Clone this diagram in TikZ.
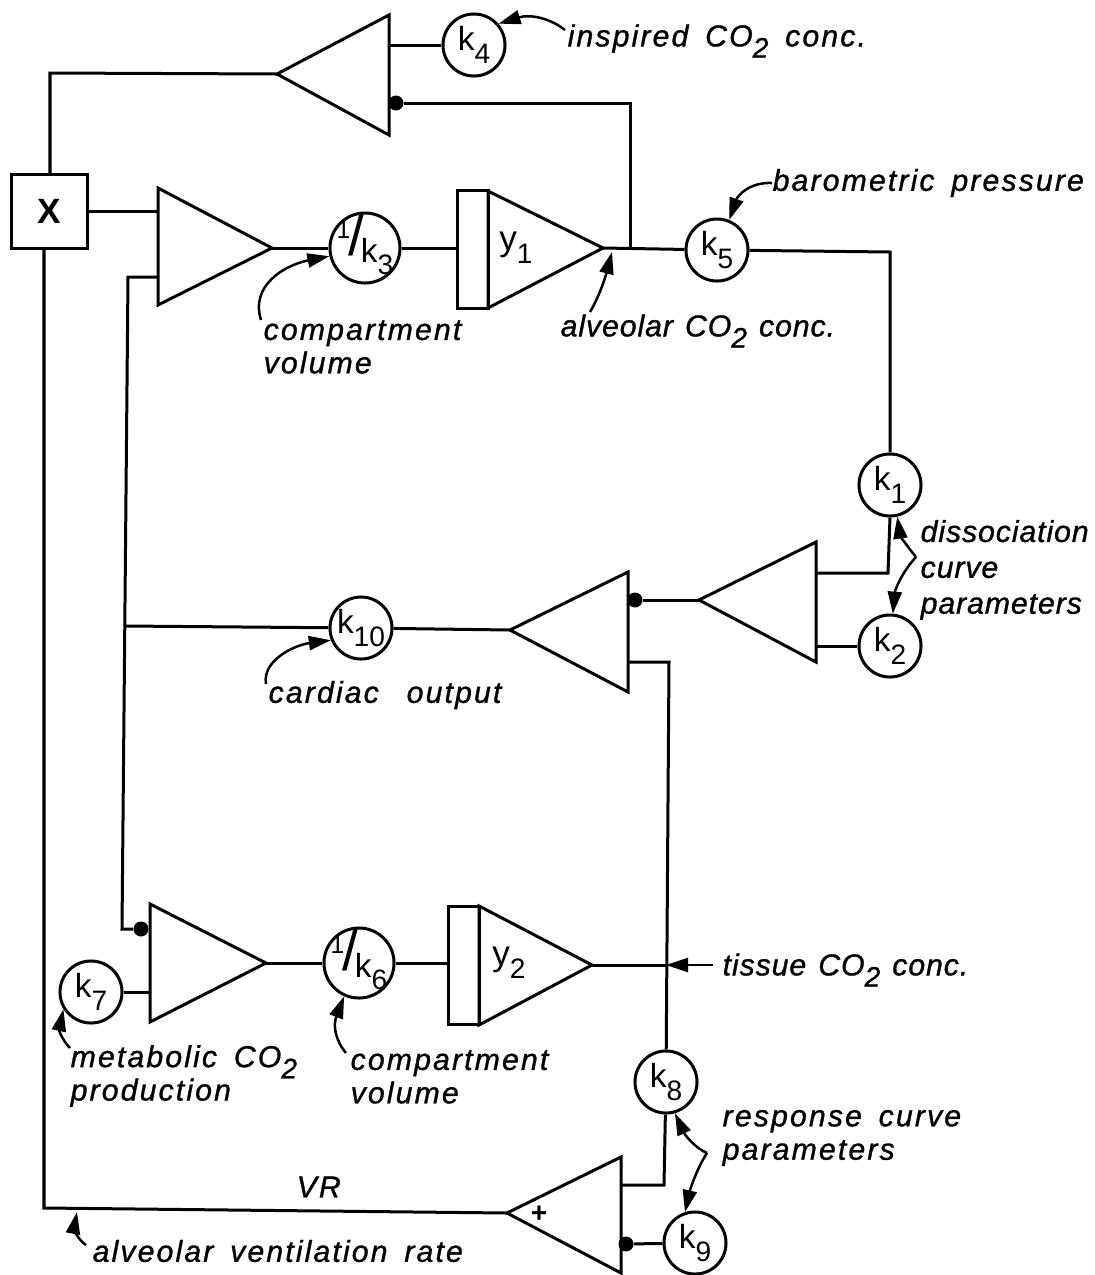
\documentclass[tikz,border=0pt]{standalone}
\usepackage{fontspec}
\setmainfont{Liberation Sans}
\newfontfamily\notefont[LetterSpace=7,WordSpace=1.6,ItalicFeatures={FakeBold=1}]{Liberation Sans}
\newfontfamily\tightfont[LetterSpace=3,WordSpace=1.3,ItalicFeatures={FakeBold=1}]{Liberation Sans}
\usetikzlibrary{arrows.meta}

\newcommand{\low}[1]{\raisebox{-.7ex}{\footnotesize #1}}
\newcommand{\inv}[1]{\smash{\makebox[0pt]{\raisebox{-.45ex}{\raisebox{1ex}{\scriptsize 1}\kern-.05em{\fontsize{16}{16}\selectfont/}\kern-.1em\raisebox{-.35ex}{k\low{#1}}}}}}

\tikzset{
  wire/.style={line width=0.3mm},
  pointer/.style={line width=0.25mm, -{Stealth[length=2.2mm,width=1.4mm,inset=0pt]}},
  gain/.style={draw, circle, line width=0.3mm, minimum size=6.2mm, inner sep=0pt, font=\fontsize{9.5}{10}\selectfont},
  biggain/.style={gain, minimum size=7mm},
  store/.style={draw, line width=0.3mm, minimum width=3mm, minimum height=11.7mm, inner sep=0pt},
  blob/.style={circle, fill=black, minimum size=1.5mm, inner sep=0pt},
  note/.style={anchor=west, inner sep=0pt, align=left, font=\notefont\itshape\fontsize{8.6}{9.5}\selectfont},
  tightnote/.style={note, font=\tightfont\itshape\fontsize{8.6}{10.2}\selectfont},
}

\begin{document}
\begin{tikzpicture}[x=0.01cm, y=-0.01cm]
\useasboundingbox (0,0) rectangle (1095,1275);

% Amplifier triangles: tip, then base line
\foreach \amp/\ax/\ay/\bx/\bt/\bb in {ampA/277/74/389/15/135, ampB/272/248/158/188/305,
    ampC/603/248/488/191/308, ampD/510/630/628/572/692, ampE/699/600/816/542/662,
    ampF/266/963/150/904/1022, ampG/592/965/479/906/1025, ampH/507/1213/621/1157/1273} {
  \coordinate (\amp tip) at (\ax,\ay);
  \coordinate (\amp top) at (\bx,\bt);
  \coordinate (\amp bot) at (\bx,\bb);
  \draw[wire] (\amp tip) -- (\amp top) -- (\amp bot) -- cycle;
}

% Gains
\foreach \i/\x/\y in {1/890/485, 2/890/646, 4/474/45, 5/717/250, 7/91/992, 8/666/1082, 9/695/1243} {
  \node[gain] (k\i) at (\x,\y) {k\low{\i}};
}
\node[gain] (k10) at (361,628) {k\low{10}};
\node[biggain] (k3) at (365,248) {\inv{3}};
\node[biggain] (k6) at (359,963) {\inv{6}};

% Multiplier and the two stores
\node[draw, line width=0.3mm, minimum width=7.5mm, minimum height=7.3mm, inner sep=0pt, font=\bfseries\fontsize{10}{10}\selectfont] (X) at (49.5,211.5) {X};
\node[store] (storeA) at (473,249.5) {};
\node[store] (storeB) at (464,965.5) {};
\node[font=\fontsize{10}{10}\selectfont] (yA) at (516,248) {y\low{1}};
\node[font=\fontsize{10}{10}\selectfont] (yB) at (509,963) {y\low{2}};
\node[font=\bfseries\fontsize{8}{8}\selectfont] (plus) at (539,1214) {+};

% Inhibiting inputs
\node[blob] (dotA) at (396,103) {};
\node[blob] (dotB) at (141,929) {};
\node[blob] (dotC) at (635,600) {};
\node[blob] (dotD) at (626,1244) {};

% Corners and tapping points of the wires
\coordinate (tapA) at (630,248);
\coordinate (tapB) at (125,626);
\coordinate (tapC) at (666,965);
\coordinate (upA) at (630,103);
\coordinate (upB) at (50,73);
\coordinate (downA) at (44,1208);
\coordinate (inB) at (158,277);
\coordinate (upC) at (128,277);
\coordinate (downB) at (122,929);
\coordinate (rightA) at (890,252);
\coordinate (rightB) at (888,573);
\coordinate (inE) at (816,573);
\coordinate (inD) at (628,662);
\coordinate (rightC) at (669,662);
\coordinate (rightD) at (664,1185);
\coordinate (inH) at (621,1185);

% Wires
\draw[wire] (X.north -| upB) -- (upB) -- (ampAtip);
\draw[wire] (k4) -- (k4 -| ampAtop);
\draw[wire] (tapA) -- (upA) -- (dotA);
\draw[wire] (X.east) -- (X.east -| ampBtop);
\draw[wire] (ampBtip) -- (k3);
\draw[wire] (k3) -- (k3 -| storeA.west);
\draw[wire] (ampCtip) -- (k5);
\draw[wire] (k5) -- (rightA) -- (k1);
\draw[wire] (k1.south) -- (rightB) -- (inE);
\draw[wire] (k2) -- (k2 -| ampEtop);
\draw[wire] (ampEtip) -- (dotC);
\draw[wire] (ampDtip) -- (k10);
\draw[wire] (k10) -- (tapB);
\draw[wire] (inB) -- (upC) -- (downB) -- (dotB);
\draw[wire] (inD) -- (rightC) -- (k8);
\draw[wire] (k7) -- (k7 -| ampFtop);
\draw[wire] (ampFtip) -- (k6);
\draw[wire] (k6) -- (k6 -| storeB.west);
\draw[wire] (ampGtip) -- (tapC);
\draw[wire] (k8) -- (rightD) -- (inH);
\draw[wire] (k9) -- (dotD);
\draw[wire] (X.south -| downA) -- (downA) -- (ampHtip);

% Labels
\node[note] (noteInsp) at (567,41) {inspired CO\low{2} conc.};
\node[note] (noteBaro) at (772,183) {barometric pressure};
\node[note] (noteVolA) at (263,347) {compartment\\volume};
\node[tightnote] (noteAlv) at (560,331) {alveolar CO\low{2} conc.};
\node[tightnote] (noteDiss) at (920,570) {dissociation\\curve\\parameters};
\node[note] (noteCard) at (268,695) {cardiac\hspace{1.1mm} output};
\node[tightnote] (noteTiss) at (722,970) {tissue CO\low{2} conc.};
\node[note] (noteMeta) at (70,1076) {metabolic CO\low{2}\\production};
\node[note] (noteVolB) at (350,1077) {compartment\\volume};
\node[note] (noteResp) at (722,1138) {response curve\\parameters};
\node[note] (noteVR) at (296,1187) {VR};
\node[note] (noteVent) at (92,1251) {alveolar ventilation rate};

% Free ends of the pointers
\coordinate (peakA) at (916,557);
\coordinate (peakB) at (707,1153);
\coordinate (tipAlv) at (612,252);
\coordinate (tipVent) at (77,1212);

% Pointers
\draw[pointer] (565,30) .. controls (550,18) and (530,14) .. (k4.41);
\draw[pointer] (noteBaro.west) .. controls (750,182) and (738,195) .. (k5.68);
\draw[pointer] (261,320) .. controls (250,285) and (285,265) .. (k3.193);
\draw[pointer] (590,312) .. controls (600,295) and (606,275) .. (tipAlv);
\draw[pointer] (266,684) .. controls (262,660) and (295,645) .. (k10.202);
\draw[pointer] (peakA) .. controls (906,545) and (900,535) .. (k1.283);
\draw[pointer] (peakA) .. controls (902,572) and (895,590) .. (k2.85);
\draw[pointer] (713,965) -- (tapC);
\draw[pointer] (70,1048) .. controls (62,1040) and (59,1030) .. (k7.212);
\draw[pointer] (346,1053) .. controls (335,1040) and (333,1025) .. (k6.246);
\draw[pointer] (peakB) .. controls (695,1148) and (685,1135) .. (k8.286);
\draw[pointer] (peakB) .. controls (697,1168) and (690,1190) .. (k9.108);
\draw[pointer] (86,1245) .. controls (78,1240) and (74,1228) .. (tipVent);

\end{tikzpicture}
\end{document}
